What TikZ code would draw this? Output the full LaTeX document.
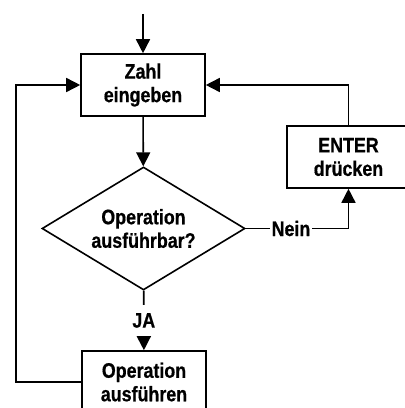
\documentclass[tikz,border=0pt]{standalone}
\usepackage{fontspec}
\setmainfont{Liberation Sans}[FakeStretch=0.85,BoldFeatures={FakeBold=0.6}]
\usetikzlibrary{shapes.geometric,arrows.meta}
\begin{document}
\begin{tikzpicture}[x=1pt,y=1pt,line width=1.6pt,
    font=\fontsize{21}{23.5}\selectfont\bfseries,
    box/.style={draw,rectangle,align=center,minimum width=124pt,minimum height=62pt,inner sep=0pt},
    test/.style={draw,diamond,align=center,aspect=1.65,minimum width=203pt,minimum height=123pt,inner sep=0pt},
    >={Triangle[length=14pt,width=14pt]}]
  \useasboundingbox (0,0) rectangle (405,408);
  \draw
    (143,323) node[box] (zahl){Zahl\\eingeben}
    (143.5,179.5) node[test] (frage){Operation\\ausführbar?}
    (144,26) node[box] (ausf){Operation\\ausführen}
    (348.5,251) node[box,minimum width=123pt] (enter){ENTER\\drücken};
  \coordinate (start) at (143,394);
  \coordinate (links) at (16,26);
  \begin{scope}[->]
    \draw (start) to (zahl);
    \draw (zahl) to (frage);
    \draw (frage) to node[fill=white,inner xsep=2pt,inner ysep=8pt]{JA} (ausf);
    \draw (frage.east) -| node[pos=0.22,fill=white,inner xsep=2pt,inner ysep=4pt]{Nein} (enter.south);
    \draw (enter.north) |- (zahl.east);
    \draw (ausf.west) -- (links) |- (zahl.west);
  \end{scope}
\end{tikzpicture}
\end{document}
